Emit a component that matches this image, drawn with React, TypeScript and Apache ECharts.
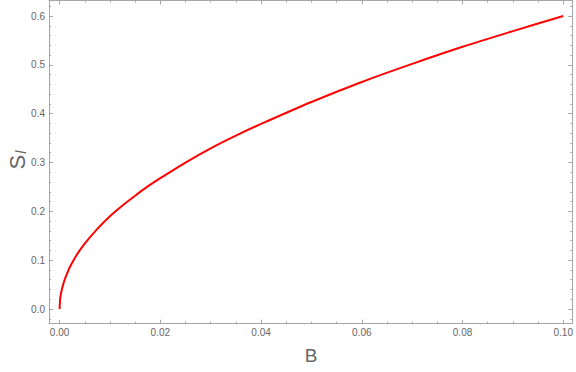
import React, { useEffect, useRef } from "react";
import * as echarts from "echarts";

const bValues = [0, 0.0001, 0.0002, 0.0005, 0.001, 0.0015, 0.002, 0.003, 0.004, 0.005, 0.0075, 0.01, 0.0125, 0.015, 0.0175, 0.02, 0.025, 0.03, 0.035, 0.04, 0.05, 0.06, 0.07, 0.08, 0.09, 0.1];
const sValues = [0, 0.019, 0.027, 0.042, 0.06, 0.073, 0.085, 0.104, 0.12, 0.134, 0.164, 0.19, 0.212, 0.232, 0.251, 0.268, 0.3, 0.329, 0.355, 0.379, 0.424, 0.465, 0.502, 0.537, 0.569, 0.6];

const xMajorTicks = [0, 0.02, 0.04, 0.06, 0.08, 0.1];
const xMinorTicks = [0.005, 0.01, 0.015, 0.025, 0.03, 0.035, 0.045, 0.05, 0.055, 0.065, 0.07, 0.075, 0.085, 0.09, 0.095];
const yMajorTicks = [0, 0.1, 0.2, 0.3, 0.4, 0.5, 0.6];
const yMinorTicks = [-0.02, 0.02, 0.04, 0.06, 0.08, 0.12, 0.14, 0.16, 0.18, 0.22, 0.24, 0.26, 0.28, 0.32, 0.34, 0.36, 0.38, 0.42, 0.44, 0.46, 0.48, 0.52, 0.54, 0.56, 0.58, 0.62];

const X_MIN = -0.0021;
const X_MAX = 0.1018;
const Y_MIN = -0.0301;
const Y_MAX = 0.6318;

const FRAME = "#a6a6a6";
const TEXT = "#666666";
const FONT = "'Liberation Sans', Arial, sans-serif";

function xAxis(pos: "top" | "bottom", major: boolean) {
  return {
    type: "value",
    position: pos,
    min: X_MIN,
    max: X_MAX,
    axisLine: { show: major, onZero: false, lineStyle: { color: FRAME, width: 1 } },
    axisTick: {
      show: true,
      inside: true,
      length: major ? 4 : 2,
      customValues: major ? xMajorTicks : xMinorTicks,
      lineStyle: { color: FRAME, width: 1 },
    },
    axisLabel: {
      show: major && pos === "bottom",
      customValues: xMajorTicks,
      formatter: (v: number) => v.toFixed(2),
      color: TEXT,
      fontSize: 10,
      fontFamily: FONT,
      margin: 4,
    },
    splitLine: { show: false },
  };
}

function yAxis(pos: "left" | "right", major: boolean) {
  return {
    type: "value",
    position: pos,
    min: Y_MIN,
    max: Y_MAX,
    axisLine: { show: major, onZero: false, lineStyle: { color: FRAME, width: 1 } },
    axisTick: {
      show: true,
      inside: true,
      length: major ? 4 : 2,
      customValues: major ? yMajorTicks : yMinorTicks,
      lineStyle: { color: FRAME, width: 1 },
    },
    axisLabel: {
      show: major && pos === "left",
      customValues: yMajorTicks,
      formatter: (v: number) => v.toFixed(1),
      color: TEXT,
      fontSize: 10,
      fontFamily: FONT,
      margin: 4,
    },
    splitLine: { show: false },
  };
}

export default function App() {
  const ref = useRef<HTMLDivElement>(null);
  useEffect(() => {
    if (!ref.current) return;
    const chart = echarts.init(ref.current, undefined, { renderer: "svg" });
    chart.setOption({
      animation: false,
      backgroundColor: "#ffffff",
      grid: { left: 49, right: 2.7, top: 0.5, bottom: 48.3, containLabel: false },
      xAxis: [xAxis("bottom", true), xAxis("bottom", false), xAxis("top", true), xAxis("top", false)],
      yAxis: [yAxis("left", true), yAxis("left", false), yAxis("right", true), yAxis("right", false)],
      series: [
        {
          type: "line",
          xAxisIndex: 0,
          yAxisIndex: 0,
          data: bValues.map((b, i) => [b, sValues[i]]),
          smooth: 0.3,
          showSymbol: false,
          lineStyle: { color: "#ff0000", width: 2 },
        },
      ],
      graphic: [
        {
          type: "text",
          x: 311,
          y: 355,
          style: {
            text: "B",
            fill: TEXT,
            font: `19px ${FONT}`,
            align: "center",
            verticalAlign: "middle",
          },
        },
        {
          type: "text",
          x: 17,
          y: 160,
          rotation: Math.PI / 2,
          style: {
            text: "{s|S}{l|l}",
            fill: TEXT,
            align: "center",
            verticalAlign: "middle",
            rich: {
              s: { fontSize: 22, fontFamily: FONT, fill: TEXT },
              l: { fontSize: 14, fontFamily: FONT, fontStyle: "italic", fill: TEXT, verticalAlign: "bottom", padding: [8, 0, 0, 1] },
            },
          },
        },
      ],
    });
    return () => chart.dispose();
  }, []);
  return <div ref={ref} style={{ width: 576, height: 372, position: "absolute", left: 0, top: 0 }} />;
}
